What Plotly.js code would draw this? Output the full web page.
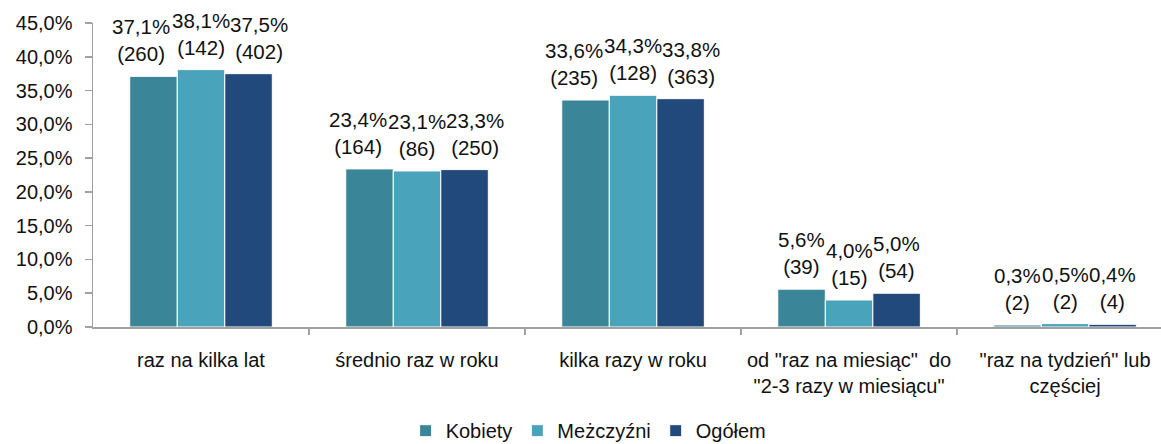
<!DOCTYPE html>
<html><head><meta charset="utf-8">
<script src="https://cdn.plot.ly/plotly-3.0.1.min.js"></script>
<style>body{margin:0;background:#fff}#chart{width:1161px;height:444px}</style>
</head><body><div id="chart"></div>
<script>
const categories = ['raz na kilka lat', 'średnio raz w roku', 'kilka razy w roku', 'od "raz na miesiąc"  do<br>"2-3 razy w miesiącu"', '"raz na tydzień" lub<br>częściej'];
const seriesNames = ['Kobiety', 'Meżczyźni', 'Ogółem'];
const kobietyPct = [37.1, 23.4, 33.6, 5.6, 0.3];
const kobietyN = [260, 164, 235, 39, 2];
const mezczyzniPct = [38.1, 23.1, 34.3, 4.0, 0.5];
const mezczyzniN = [142, 86, 128, 15, 2];
const ogolemPct = [37.5, 23.3, 33.8, 5.0, 0.4];
const ogolemN = [402, 250, 363, 54, 4];
const yTickVals = [0, 5, 10, 15, 20, 25, 30, 35, 40, 45];
const yTickText = ['0,0%', '5,0%', '10,0%', '15,0%', '20,0%', '25,0%', '30,0%', '35,0%', '40,0%', '45,0%'];

const FONT = 'Liberation Sans, Arial, sans-serif';
const colors = ['#3A8597', '#48A3BB', '#21497B'];
const BARGAP = 0.34;
// label spreading (px) per series, used in the crowded first three groups
const LABEL_SPREAD = [-12, 0, 10];
const SPREAD_GROUPS = 3;
const fmt = v => v.toFixed(1).replace('.', ',') + '%';
const series = [
  {name: seriesNames[0], pct: kobietyPct, n: kobietyN, color: colors[0]},
  {name: seriesNames[1], pct: mezczyzniPct, n: mezczyzniN, color: colors[1]},
  {name: seriesNames[2], pct: ogolemPct, n: ogolemN, color: colors[2]}
];
const data = series.map(s => ({
  type: 'bar', name: s.name, x: categories.map((c, i) => i), y: s.pct,
  marker: {color: s.color, line: {color: '#ffffff', width: 1}},
  hoverinfo: 'none'
}));
const slot = (1 - BARGAP) / series.length;
const annotations = [];
series.forEach((s, k) => {
  s.pct.forEach((v, i) => {
    annotations.push({
      xref: 'x', yref: 'y', x: i + (k - (series.length - 1) / 2) * slot, y: v,
      text: fmt(v) + '<br>(' + s.n[i] + ')', showarrow: false,
      xanchor: 'center', yanchor: 'bottom', yshift: 9,
      xshift: i < SPREAD_GROUPS ? LABEL_SPREAD[k] : 0,
      font: {family: FONT, size: 20.5, color: '#111'}
    });
  });
});
const layout = {
  width: 1161, height: 444,
  margin: {l: 93, r: 0, t: 23, b: 117},
  paper_bgcolor: '#fff', plot_bgcolor: '#fff',
  font: {family: FONT, size: 20, color: '#111'},
  barmode: 'group', bargap: BARGAP, bargroupgap: 0,
  showlegend: true,
  annotations: annotations,
  legend: {orientation: 'h', xref: 'container', yref: 'container', x: 0.507, xanchor: 'center',
           y: 0.03, yanchor: 'middle', font: {size: 20}, itemwidth: 30, traceorder: 'normal'},
  xaxis: {
    type: 'linear', range: [-0.5, 4.444], tickvals: categories.map((c, i) => i), ticktext: categories,
    ticks: '', showline: true, linecolor: '#a0a0a0', linewidth: 1.5,
    showgrid: false, zeroline: false, tickfont: {size: 20}, ticklabelstandoff: 14,
    automargin: false, fixedrange: true
  },
  xaxis2: {
    overlaying: 'x', matches: 'x', type: 'linear', range: [-0.5, 4.444],
    tickvals: categories.map((c, i) => i + 0.5), ticktext: categories.map(() => ''),
    ticks: 'outside', ticklen: 7, tickcolor: '#a0a0a0', tickwidth: 1.5, side: 'bottom',
    showgrid: false, zeroline: false, showline: false, anchor: 'y', automargin: false
  },
  yaxis: {
    range: [0, 45], tickvals: yTickVals, ticktext: yTickText,
    ticks: 'outside', ticklen: 7, tickcolor: '#a0a0a0', tickwidth: 1.5,
    showline: true, linecolor: '#a0a0a0', linewidth: 1.5,
    showgrid: false, zeroline: false, tickfont: {size: 20}, ticklabelstandoff: 8,
    automargin: false, fixedrange: true
  }
};
data.push({type: 'scatter', x: [], y: [], xaxis: 'x2', showlegend: false, hoverinfo: 'none'});
Plotly.newPlot('chart', data, layout, {displayModeBar: false, staticPlot: true});
</script>
</body></html>
